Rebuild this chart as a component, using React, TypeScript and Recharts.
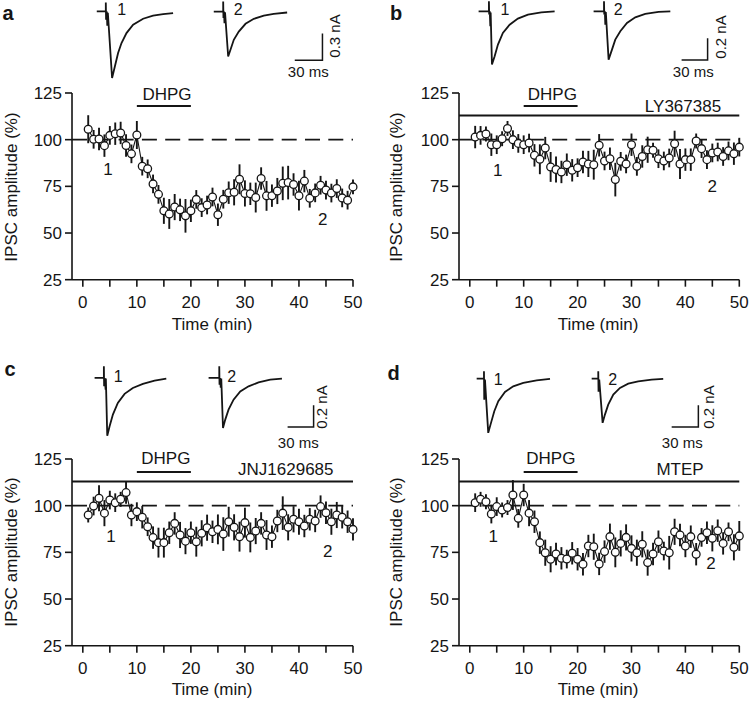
import React from 'react';
import { LineChart, Line, XAxis, YAxis, ReferenceLine, ErrorBar } from 'recharts';

const FONT = '"Liberation Sans", Arial, Helvetica, sans-serif';
const INK = '#151515';

// ---- time course data (min) ----
const TIME = [1,2,3,4,5,6,7,8,9,10,11,12,13,14,15,16,17,18,19,20,21,22,23,24,25,26,27,28,29,30,31,32,33,34,35,36,37,38,39,40,41,42,43,44,45,46,47,48,49,50];

const A_MEAN = [105.6,100.2,100.4,96.8,102.3,103.2,103.6,96.9,92.4,102.5,85.8,84.4,76.3,70.7,61.9,60.2,63.9,62.4,59.2,61.9,68,63.6,65,69.3,59.8,68.1,71.6,71.8,78.8,71.2,71,69,79.2,69.9,70,72.5,76.6,77,76,70,77.8,68.6,71.5,75.6,73,71.4,73.8,68.8,67.6,74.7];
const A_ERR = [7.5,5,6,6,5,6,6,6,5,7.5,5,5,5,5,7,8,7,6,9,6,5,5,5,5,6,5,6,7,8,7,6,8,6,8,6,7,9,9,6,8,6,5,5,5,5,5,5,5,5,4];

const B_MEAN = [101.4,102.3,103,97.3,97.3,100.5,106,100,98,97.3,98.2,91.6,89.5,95.5,85.4,84,82.7,86.6,83.6,85,88,87,86.6,97,88.6,89.8,78.6,88.4,87,97.3,85.7,91,94.6,94.3,89.8,88.6,90.2,97.8,87,89.3,89.3,99.3,95.2,89.3,92.9,93.4,91,94,92.5,96];
const B_ERR = [6,5,4,6,5,4,4,5,5,5,5,6,8,6,8,7,6,6,6,5,6,7,8,6,5,6,9,5,5,6,5,6,7,4,5,5,5,7,8,6,6,4,5,5,5,5,5,5,6,5];

const C_MEAN = [95,99.8,104,96,103,101.6,103.4,107,95,96.8,93.8,88.7,82.9,80.2,80.2,85.5,90.5,84.3,81,85.5,80.7,85.2,88.2,86,87.3,84.8,91.4,88.4,83.4,90.9,83,86.4,90.5,84.3,83.4,91.8,96,88.4,92.7,91.4,89.1,92.7,91.8,99.5,96.2,91.4,95,93.8,91.4,87.3];
const C_ERR = [4,5,7,7,5,5,4,6,6,5,6,5,6,8,8,6,6,7,7,6,8,7,7,6,8,9,8,7,8,8,8,7,6,8,6,6,9,7,7,7,6,6,6,6,6,7,7,6,6,6];

const D_MEAN = [101.6,103.4,102.1,95.5,99.5,97.7,99,105.7,93.2,105.7,96,91.4,80.2,74.8,71.3,74.1,71.8,71.4,74.5,71.3,68.6,78.4,78,68.8,75.4,83.4,75,79.8,83,77.1,74.8,79.3,69.5,74.1,80.7,75.7,74.8,86,84.3,78.4,83.4,74,83,85.5,82.5,86.6,79.8,86,77.7,83.8];
const D_ERR = [5,4,4,5,5,4,4,8,5,6,7,6,6,7,7,6,6,5,6,6,6,6,7,6,6,7,8,7,7,7,7,7,7,6,6,5,9,7,6,6,6,6,5,6,7,6,6,5,7,8];

const X_TICKS = [0,5,10,15,20,25,30,35,40,45,50];
const Y_TICKS = [25,50,75,100,125];
const X_DOMAIN = [-2, 50];
const Y_DOMAIN = [25, 125];
const BASELINE = 100;
const DHPG_START = 10;
const DHPG_END = 20;
const DHPG_LEVEL = 118;
const DRUG_LEVEL = 113;

// ---- example IPSC traces: [time (ms from stimulus), current (nA)] ----
const A_TRACE1 = [[-9.8,0],[0,0],[0,0.1],[0.3,-0.093],[1.1,0],[1.6,-0.16],[2.2,-0.015],[6.8,-0.748],[9.8,-0.618],[13.3,-0.467],[17,-0.355],[22.4,-0.243],[29.6,-0.149],[40.4,-0.082],[51.2,-0.048],[62.1,-0.029],[72.9,-0.018]];
const A_TRACE2 = [[-10.2,0],[0,0],[0,0.112],[0.3,-0.074],[0.9,0],[1.4,-0.13],[2,-0.01],[5.4,-0.506],[7.9,-0.43],[11.5,-0.318],[16.9,-0.225],[24.2,-0.138],[33.2,-0.082],[44,-0.045],[54.8,-0.026],[69.3,-0.011]];
const B_TRACE1 = [[-11.9,0],[0,0],[0,0.092],[0.3,-0.03],[1,0],[1.6,-0.138],[2,-0.012],[3.5,-0.491],[6.6,-0.415],[10.4,-0.307],[16.1,-0.199],[23.9,-0.123],[33.4,-0.067],[45,-0.03],[60.4,-0.009],[75.8,0]];
const B_TRACE2 = [[-12,0],[0,0],[0,0.092],[0.3,-0.03],[1,0],[1.5,-0.123],[2.1,-0.007],[5.3,-0.445],[9.2,-0.353],[13,-0.261],[18.8,-0.184],[26.5,-0.107],[36.1,-0.055],[47.6,-0.024],[63,-0.006],[76.5,0]];
const C_TRACE1 = [[-10.7,0],[0,0],[0,0.107],[0.3,-0.077],[1,0],[2,-0.108],[2.3,-0.006],[3.9,-0.532],[6.6,-0.446],[10.4,-0.338],[16.1,-0.23],[23.9,-0.147],[33.4,-0.092],[45,-0.055],[58.5,-0.025],[72,-0.006]];
const C_TRACE2 = [[-12.3,0],[0,0],[0,0.107],[0.3,-0.062],[1,0],[1.7,-0.089],[2.3,-0.006],[4.3,-0.461],[6.9,-0.384],[10.7,-0.292],[16.5,-0.2],[24.2,-0.124],[33.8,-0.077],[45.3,-0.041],[58.8,-0.016],[72.3,-0.006]];
const D_TRACE1 = [[-8.2,0],[0,0],[0,0.067],[0.3,-0.194],[1.1,-0.009],[4.8,-0.5],[7.9,-0.408],[11.6,-0.301],[16.1,-0.209],[23.6,-0.123],[32.9,-0.071],[44.2,-0.04],[59.2,-0.016],[74.2,-0.003]];
const D_TRACE2 = [[-7.4,0],[0,0],[0,0.067],[0.3,-0.12],[1.1,-0.009],[4.9,-0.408],[7.5,-0.332],[11.2,-0.24],[16.9,-0.147],[24.4,-0.086],[33.7,-0.046],[44.9,-0.025],[60,-0.009],[73,-0.003]];
const SCALE_A = [[0,0],[30,0],[30,0.3]];
const SCALE_BCD = [[0,0],[30,0],[30,0.2]];

const PLOT_H = 186.7;

function Panel({ x, y, w, means, errs, drug }: any) {
  const data = TIME.map((t, i) => ({ t, v: means[i], e: errs[i] }));
  const ML = 62, MT = 20, MR = 20;
  return (
    <div style={{ position: 'absolute', left: x - ML, top: y - MT }}>
      <LineChart width={ML + w + MR} height={MT + PLOT_H + 55} data={data}
        margin={{ top: MT, right: MR, bottom: 15, left: 0 }}>
        <XAxis type="number" dataKey="t" domain={X_DOMAIN} ticks={X_TICKS}
          tickFormatter={(v: number) => (v % 10 === 0 ? String(v) : '')}
          height={40} tickSize={7} tickMargin={9} stroke={INK} strokeWidth={1.6}
          tick={{ fill: INK, fontSize: 17, fontFamily: FONT }} />
        <YAxis type="number" domain={Y_DOMAIN} ticks={Y_TICKS} width={ML}
          tickSize={7} tickMargin={3} stroke={INK} strokeWidth={1.6}
          tick={{ fill: INK, fontSize: 17, fontFamily: FONT }} />
        <ReferenceLine y={BASELINE} stroke={INK} strokeWidth={1.6} strokeDasharray="15 8.3" />
        {drug ? (
          <ReferenceLine segment={[{ x: X_DOMAIN[0], y: DRUG_LEVEL }, { x: X_DOMAIN[1], y: DRUG_LEVEL }]}
            stroke={INK} strokeWidth={2} />
        ) : null}
        <ReferenceLine segment={[{ x: DHPG_START, y: DHPG_LEVEL }, { x: DHPG_END, y: DHPG_LEVEL }]}
          stroke={INK} strokeWidth={2} />
        <Line type="linear" dataKey="v" stroke={INK} strokeWidth={1.1} dot={false} isAnimationActive={false}>
          <ErrorBar dataKey="e" width={0} stroke={INK} strokeWidth={1.9} direction="y" />
        </Line>
        <Line type="linear" dataKey="v" stroke="none" isAnimationActive={false}
          dot={{ r: 3.9, fill: '#fff', stroke: INK, strokeWidth: 1.3 }} />
      </LineChart>
    </div>
  );
}

function Trace({ pts, x0, y0, kx, ky, sw = 1.8 }: any) {
  const ts = pts.map((p: number[]) => p[0]);
  const vs = pts.map((p: number[]) => p[1]);
  const tmin = Math.min(...ts) - 3, tmax = Math.max(...ts) + 3;
  const vmin = Math.min(...vs) - 0.04, vmax = Math.max(...vs) + 0.04;
  const data = pts.map((p: number[]) => ({ t: p[0], v: p[1] }));
  return (
    <div style={{ position: 'absolute', left: x0 + tmin * kx, top: y0 - vmax * ky }}>
      <LineChart width={(tmax - tmin) * kx} height={(vmax - vmin) * ky} data={data}
        margin={{ top: 0, right: 0, bottom: 0, left: 0 }}>
        <XAxis type="number" dataKey="t" domain={[tmin, tmax]} hide />
        <YAxis type="number" domain={[vmin, vmax]} hide />
        <Line type="linear" dataKey="v" stroke={INK} strokeWidth={sw} dot={false} isAnimationActive={false} />
      </LineChart>
    </div>
  );
}

function Txt({ x, y, children, size = 17, bold = false, rotate = 0 }: any) {
  return (
    <div style={{
      position: 'absolute', left: x, top: y,
      transform: `translate(-50%, -50%) rotate(${rotate}deg)`,
      fontSize: size, fontWeight: bold ? 700 : 400, fontFamily: FONT,
      whiteSpace: 'nowrap', lineHeight: 'normal', color: INK,
    }}>{children}</div>
  );
}

export default function App() {
  return (
    <div style={{ position: 'absolute', left: 0, top: 0, width: 750, height: 703, background: '#fff', overflow: 'hidden' }}>
      {/* panels */}
      <Panel x={71.7} y={92.7} w={281} means={A_MEAN} errs={A_ERR} drug={false} />
      <Panel x={459} y={92.7} w={280.3} means={B_MEAN} errs={B_ERR} drug={true} />
      <Panel x={71.7} y={459} w={281} means={C_MEAN} errs={C_ERR} drug={true} />
      <Panel x={459} y={459} w={280.3} means={D_MEAN} errs={D_ERR} drug={true} />

      {/* traces */}
      <Trace pts={A_TRACE1} x0={106} y0={11.7} kx={0.923} ky={89} />
      <Trace pts={A_TRACE2} x0={222.7} y0={11.7} kx={0.923} ky={89} />
      <Trace pts={SCALE_A} x0={295} y0={60} kx={0.923} ky={89} sw={1.5} />
      <Trace pts={B_TRACE1} x0={489.3} y0={11.7} kx={0.867} ky={108.5} />
      <Trace pts={B_TRACE2} x0={603.7} y0={11.7} kx={0.867} ky={108.5} />
      <Trace pts={SCALE_BCD} x0={681.7} y0={60} kx={0.867} ky={108.5} sw={1.5} />
      <Trace pts={C_TRACE1} x0={104.3} y0={378.3} kx={0.867} ky={108.5} />
      <Trace pts={C_TRACE2} x0={219} y0={378.3} kx={0.867} ky={108.5} />
      <Trace pts={SCALE_BCD} x0={287.3} y0={426.7} kx={0.867} ky={108.5} sw={1.5} />
      <Trace pts={D_TRACE1} x0={484} y0={379} kx={0.89} ky={108.5} />
      <Trace pts={D_TRACE2} x0={598.3} y0={379} kx={0.89} ky={108.5} />
      <Trace pts={SCALE_BCD} x0={671.7} y0={426.7} kx={0.89} ky={108.5} sw={1.5} />

      {/* panel letters */}
      <Txt x={8} y={12.5} size={20} bold>a</Txt>
      <Txt x={396} y={12.5} size={20} bold>b</Txt>
      <Txt x={10} y={369} size={20} bold>c</Txt>
      <Txt x={393.5} y={373} size={20} bold>d</Txt>

      {/* trace labels */}
      <Txt x={121.7} y={10} size={16}>1</Txt>
      <Txt x={238.3} y={10} size={16}>2</Txt>
      <Txt x={505} y={10} size={16}>1</Txt>
      <Txt x={618.3} y={10} size={16}>2</Txt>
      <Txt x={118.3} y={376.7} size={16}>1</Txt>
      <Txt x={231.7} y={376.7} size={16}>2</Txt>
      <Txt x={498.3} y={380} size={16}>1</Txt>
      <Txt x={612.7} y={380} size={16}>2</Txt>

      {/* scale bar labels */}
      <Txt x={334} y={36} size={15} rotate={-90}>0.3 nA</Txt>
      <Txt x={308.3} y={70.7} size={15}>30 ms</Txt>
      <Txt x={720} y={36.7} size={15} rotate={-90}>0.2 nA</Txt>
      <Txt x={693.3} y={71} size={15}>30 ms</Txt>
      <Txt x={321} y={406.7} size={15} rotate={-90}>0.2 nA</Txt>
      <Txt x={298.3} y={442.3} size={15}>30 ms</Txt>
      <Txt x={708} y={407} size={15} rotate={-90}>0.2 nA</Txt>
      <Txt x={682.3} y={442.3} size={15}>30 ms</Txt>

      {/* drug labels */}
      <Txt x={167} y={95}>DHPG</Txt>
      <Txt x={552.3} y={95}>DHPG</Txt>
      <Txt x={683} y={107.3}>LY367385</Txt>
      <Txt x={165.8} y={459}>DHPG</Txt>
      <Txt x={285.8} y={470}>JNJ1629685</Txt>
      <Txt x={550.8} y={459}>DHPG</Txt>
      <Txt x={680} y={469.5}>MTEP</Txt>

      {/* time-course point labels */}
      <Txt x={108} y={170}>1</Txt>
      <Txt x={322.7} y={220}>2</Txt>
      <Txt x={497.7} y={171}>1</Txt>
      <Txt x={712.3} y={186.7}>2</Txt>
      <Txt x={111} y={536.7}>1</Txt>
      <Txt x={327.7} y={551.7}>2</Txt>
      <Txt x={493.3} y={536.7}>1</Txt>
      <Txt x={711} y={564.3}>2</Txt>

      {/* axis titles */}
      <Txt x={12} y={187} rotate={-90}>IPSC amplitude (%)</Txt>
      <Txt x={397} y={187} rotate={-90}>IPSC amplitude (%)</Txt>
      <Txt x={12} y={552} rotate={-90}>IPSC amplitude (%)</Txt>
      <Txt x={397} y={552} rotate={-90}>IPSC amplitude (%)</Txt>
      <Txt x={212} y={325}>Time (min)</Txt>
      <Txt x={598} y={325}>Time (min)</Txt>
      <Txt x={212} y={690}>Time (min)</Txt>
      <Txt x={598} y={690}>Time (min)</Txt>
    </div>
  );
}
